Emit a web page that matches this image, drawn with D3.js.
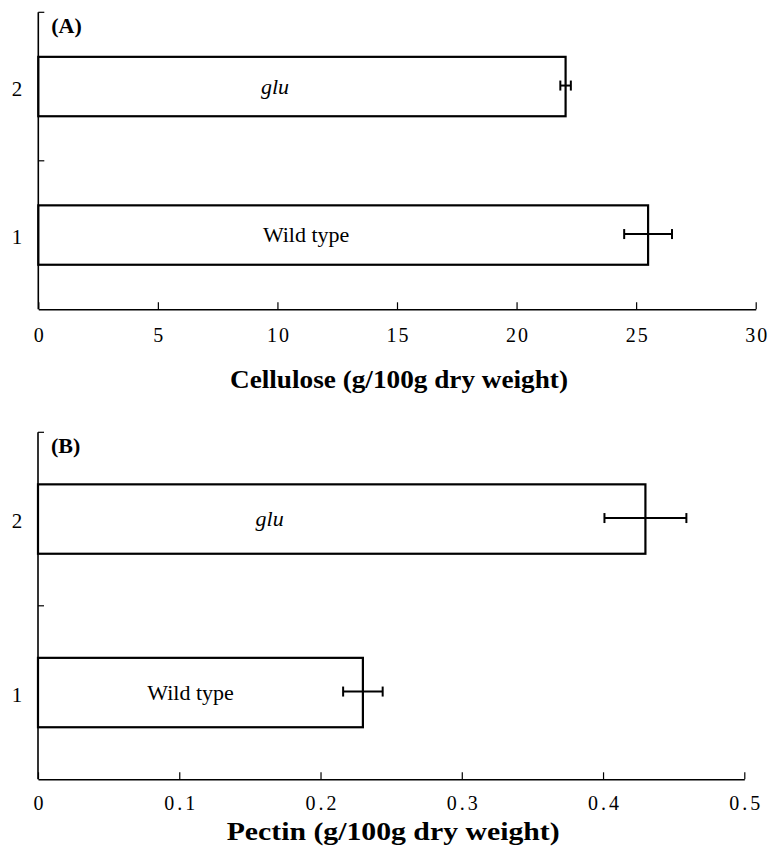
<!DOCTYPE html>
<html>
<head>
<meta charset="utf-8">
<script src="https://cdn.jsdelivr.net/npm/d3@7"></script>
<style>
  body { margin: 0; background: #fff; }
  svg text { font-family: "Times New Roman", Times, "Liberation Serif", Tinos, "DejaVu Serif", "Noto Serif", serif; fill: #000; }
</style>
</head>
<body>
<svg id="chart" width="770" height="858"></svg>
<script>
"use strict";

// categories (top to bottom) and their bar labels
var categories = ["2", "1"]
var barNames = ["glu", "Wild type"]

// panel A : cellulose
var celluloseValues = [22.05, 25.5]
var celluloseErrors = [0.22, 1.0]
var celluloseTicks = [0, 5, 10, 15, 20, 25, 30]

// panel B : pectin
var pectinValues = [0.43, 0.23]
var pectinErrors = [0.029, 0.014]
var pectinTicks = [0, 0.1, 0.2, 0.3, 0.4, 0.5]

var svg = d3.select("#chart")

/**
 * Dessine un panneau (barres horizontales + barres d'erreur + axes).
 */
function panel(opt) {
  var g = svg.append("g")

  var x = d3.scaleLinear()
    .domain([0, opt.ticks[opt.ticks.length - 1]])
    .range([opt.left, opt.right])

  var y = d3.scaleBand()
    .domain(categories)
    .range([opt.top, opt.bottom])
    .paddingInner(0.6)
    .paddingOuter(0.3)

  var rows = categories.map(function(c, i) {
    return { cat: c, name: barNames[i], value: opt.values[i], err: opt.errors[i], labelAt: opt.labelAt[i] }
  })

  // barres
  g.selectAll("rect.bar")
    .data(rows)
    .enter()
    .append("rect")
      .attr("class", "bar")
      .attr("x", x(0))
      .attr("y", function(d) { return y(d.cat) })
      .attr("width", function(d) { return x(d.value) - x(0) })
      .attr("height", y.bandwidth())
      .style("fill", "#fff")
      .style("stroke", "#000")
      .style("stroke-width", 2.2)

  // noms dans les barres
  g.selectAll("text.name")
    .data(rows)
    .enter()
    .append("text")
      .attr("class", "name")
      .attr("x", function(d) { return x(d.labelAt) })
      .attr("y", function(d) { return y(d.cat) + y.bandwidth() / 2 })
      .attr("dy", "0.32em")
      .attr("text-anchor", "middle")
      .style("font-size", "22px")
      .style("font-style", function(d) { return d.name === "glu" ? "italic" : "normal" })
      .text(function(d) { return d.name })

  // barres d'erreur
  var eb = g.selectAll("g.err")
    .data(rows)
    .enter()
    .append("g")
      .attr("class", "err")
      .attr("transform", function(d) { return "translate(0," + (y(d.cat) + y.bandwidth() / 2 - 1) + ")" })
      .style("stroke", "#000")
      .style("stroke-width", 2)

  eb.append("line")
    .attr("x1", function(d) { return x(d.value - d.err) })
    .attr("x2", function(d) { return x(d.value + d.err) })
  eb.append("line")
    .attr("x1", function(d) { return x(d.value - d.err) })
    .attr("x2", function(d) { return x(d.value - d.err) })
    .attr("y1", -5).attr("y2", 5)
  eb.append("line")
    .attr("x1", function(d) { return x(d.value + d.err) })
    .attr("x2", function(d) { return x(d.value + d.err) })
    .attr("y1", -5).attr("y2", 5)

  // axe des x
  var xAxis = g.append("g")
    .attr("transform", "translate(0," + opt.bottom + ")")
    .call(d3.axisBottom(x)
      .tickValues(opt.ticks)
      .tickSizeInner(-7)
      .tickSizeOuter(0)
      .tickFormat(opt.format))
  xAxis.attr("font-family", null)
  xAxis.select(".domain").style("stroke-width", 1.6)
  xAxis.selectAll(".tick line").style("stroke-width", 1.2)
  xAxis.selectAll(".tick text")
    .attr("y", opt.tickGap)
    .attr("dy", null)
    .attr("dx", opt.spacing / 2)
    .style("font-size", "20px")
    .style("letter-spacing", opt.spacing + "px")

  // axe des y
  g.append("line")
    .attr("x1", opt.left).attr("x2", opt.left)
    .attr("y1", opt.top).attr("y2", opt.bottom)
    .style("stroke", "#000")
    .style("stroke-width", 1.6)

  var bounds = d3.range(categories.length).map(function(i) { return opt.top + i * y.step() })
  g.selectAll("line.ytick")
    .data(bounds)
    .enter()
    .append("line")
      .attr("class", "ytick")
      .attr("x1", opt.left).attr("x2", opt.left + 6)
      .attr("y1", function(d) { return d }).attr("y2", function(d) { return d })
      .style("stroke", "#000")
      .style("stroke-width", 1.2)

  g.selectAll("text.cat")
    .data(categories)
    .enter()
    .append("text")
      .attr("class", "cat")
      .attr("x", 17)
      .attr("y", function(d) { return y(d) + y.bandwidth() / 2 + 2 })
      .attr("dy", "0.35em")
      .attr("text-anchor", "middle")
      .style("font-size", "21px")
      .text(function(d) { return d })

  // lettre du panneau
  g.append("text")
    .attr("x", opt.left + 13)
    .attr("y", opt.top + 21)
    .style("font-size", "22px")
    .style("font-weight", "bold")
    .text(opt.letter)

  // titre de l'axe
  g.append("text")
    .attr("x", (opt.left + opt.right) / 2 + 2)
    .attr("y", opt.bottom + opt.titleGap)
    .attr("text-anchor", "middle")
    .attr("textLength", opt.titleWidth)
    .attr("lengthAdjust", "spacingAndGlyphs")
    .style("font-size", "25px")
    .style("font-weight", "bold")
    .text(opt.title)
}

panel({
  letter: "(A)",
  title: "Cellulose (g/100g dry weight)",
  values: celluloseValues,
  errors: celluloseErrors,
  ticks: celluloseTicks,
  labelAt: [9.9, 11.2],
  format: d3.format("d"),
  spacing: 2,
  tickGap: 33,
  left: 38.3, right: 755.7, top: 12.3, bottom: 309.3,
  titleGap: 79, titleWidth: 338
})

panel({
  letter: "(B)",
  title: "Pectin (g/100g dry weight)",
  values: pectinValues,
  errors: pectinErrors,
  ticks: pectinTicks,
  labelAt: [0.164, 0.108],
  format: function(d) { return d === 0 ? "0" : d3.format(".1f")(d) },
  spacing: 3,
  tickGap: 31,
  left: 38, right: 744.3, top: 432.3, bottom: 779.3,
  titleGap: 61, titleWidth: 333
})
</script>
</body>
</html>
